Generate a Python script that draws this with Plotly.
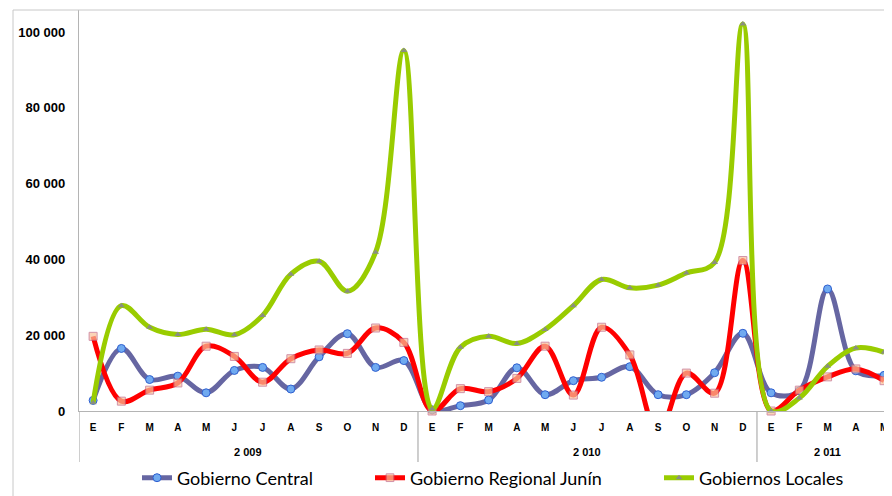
import plotly.graph_objects as go

months = ["E", "F", "M", "A", "M", "J", "J", "A", "S", "O", "N", "D",
          "E", "F", "M", "A", "M", "J", "J", "A", "S", "O", "N", "D",
          "E", "F", "M", "A", "M"]
years = ["2 009", "2 010", "2 011"]
year_sizes = [12, 12, 5]

central = [2800, 16500, 8300, 9200, 4800, 10700, 11500, 5800, 14300, 20400, 11500, 13300,
           300, 1400, 2900, 11400, 4300, 8000, 8900, 11700, 4300, 4300, 10100, 20500,
           4800, 5300, 32200, 10600, 9400]
regional = [19700, 2600, 5500, 7400, 17100, 14400, 7600, 13800, 16100, 15200, 21900, 18100,
            0, 5900, 5100, 8600, 17100, 4200, 22100, 14800, -6000, 10000, 4700, 39700,
            0, 5500, 9000, 11100, 8000]
locales = [2200, 27800, 22100, 20200, 21600, 20100, 25200, 36100, 39500, 31600, 41900, 95100,
           500, 16800, 19700, 17800, 21500, 27800, 34700, 32500, 33200, 36400, 39200, 102100,
           0, 3400, 11800, 16600, 15500]

y_ticks = [0, 20000, 40000, 60000, 80000, 100000]
y_tick_text = ["0", "20 000", "40 000", "60 000", "80 000", "100 000"]

x = list(range(len(months)))

fig = go.Figure()

fig.add_trace(go.Scatter(
    x=x, y=central, name="Gobierno Central", mode="lines+markers",
    line=dict(color="#6666a2", width=5, shape="spline", smoothing=1.0),
    marker=dict(symbol="circle", size=8, color="#70aaf0",
                line=dict(color="#2f5fd0", width=1)),
    cliponaxis=False, legend="legend", showlegend=True))

fig.add_trace(go.Scatter(
    x=x, y=regional, name="Gobierno Regional Junín", mode="lines+markers",
    line=dict(color="#ff0000", width=5, shape="spline", smoothing=1.0),
    marker=dict(symbol="square", size=[0 if v < 0 else 8 for v in regional],
                color="#f8c29a", line=dict(color="#c06585", width=1)),
    cliponaxis=False, legend="legend2", showlegend=True))

fig.add_trace(go.Scatter(
    x=x, y=locales, name="Gobiernos Locales", mode="lines+markers",
    line=dict(color="#99cc00", width=5, shape="spline", smoothing=1.0),
    marker=dict(symbol="triangle-up", size=6, color="#8a8f80",
                line=dict(width=0)),
    cliponaxis=False, legend="legend3", showlegend=True))

# the page places the figure 8px from the top-left corner of the window
OFF = 8
W, H = 892 - OFF, 496 - OFF
# plot area in figure pixels
px_l, px_r, px_t, px_b = 79 - OFF, W, 10 - OFF, 411 - OFF


def paper_x(sx):
    return (sx - OFF - px_l) / (px_r - px_l)


def paper_y(sy):
    return (px_b - (sy - OFF)) / (px_b - px_t)


shapes = []
# outer frame
shapes.append(dict(type="line", xref="paper", yref="paper",
                   x0=paper_x(13), x1=1.2, y0=1, y1=1,
                   line=dict(color="#c8c8c8", width=1)))
shapes.append(dict(type="line", xref="paper", yref="paper",
                   x0=paper_x(13), x1=paper_x(13), y0=1, y1=-0.3,
                   line=dict(color="#c8c8c8", width=1)))
# group separators for the multi-level category axis
bounds = [-0.5]
acc = -0.5
for n in year_sizes:
    acc += n
    bounds.append(acc)
for b in bounds[:-1]:
    shapes.append(dict(type="line", xref="x", yref="paper",
                       x0=b, x1=b, y0=0, y1=paper_y(462),
                       line=dict(color="#b4b4b4", width=1.3)))

annotations = []
start = 0
for yr, n in zip(years, year_sizes):
    center = start + (n - 1) / 2
    annotations.append(dict(x=center, y=paper_y(452), xref="x", yref="paper",
                            text=yr, showarrow=False, yanchor="middle",
                            font=dict(family="Liberation Sans", size=11,
                                      color="#000000", weight="bold")))
    start += n

legend_font = dict(family="Lato", size=18, color="#000000")
leg_common = dict(y=paper_y(478), xanchor="left", yanchor="middle", orientation="h",
                  font=legend_font, bgcolor="rgba(0,0,0,0)")

fig.update_layout(
    width=W, height=H,
    showlegend=True,
    margin=dict(l=px_l, r=0, t=px_t, b=H - px_b, autoexpand=False),
    paper_bgcolor="white", plot_bgcolor="white",
    xaxis=dict(range=[-0.5, 28.28], tickmode="array", tickvals=x, ticktext=months,
               showgrid=False, zeroline=False, showline=True,
               linecolor="#b4b4b4", linewidth=1.3, ticks="",
               ticklabelstandoff=7, automargin=False,
               tickfont=dict(family="Liberation Sans", size=10, color="#000000",
                             weight="bold")),
    yaxis=dict(range=[0, 105800], tickmode="array", tickvals=y_ticks,
               ticktext=y_tick_text, showgrid=False, zeroline=False,
               showline=True, linecolor="#b4b4b4", linewidth=1.3, ticks="",
               ticklabelstandoff=10, automargin=False,
               tickfont=dict(family="Liberation Sans", size=13, color="#000000",
                             weight="bold")),
    legend=dict(x=paper_x(137), **leg_common),
    legend2=dict(x=paper_x(370), **leg_common),
    legend3=dict(x=paper_x(659), **leg_common),
    shapes=shapes,
    annotations=annotations,
)

fig.write_html("out.html")
